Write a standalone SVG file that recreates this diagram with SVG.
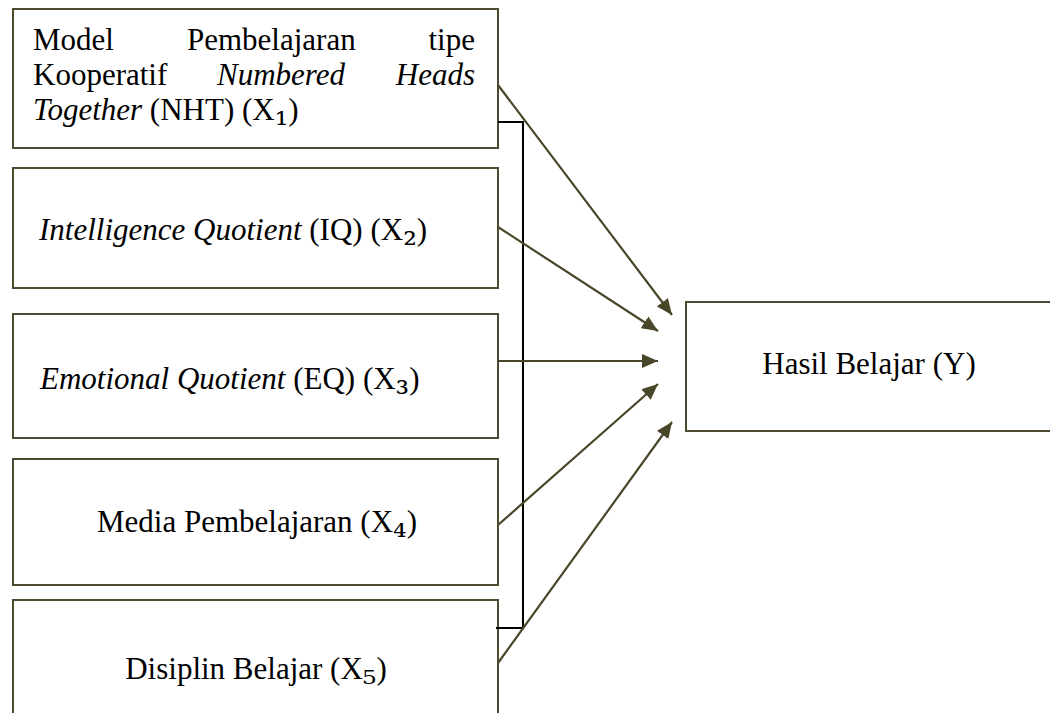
<svg xmlns="http://www.w3.org/2000/svg" width="1050" height="713" viewBox="0 0 1050 713">
<style>
.box{fill:#fff;stroke:#4f4b30;stroke-width:2}
.t{font-family:"Liberation Serif","DejaVu Serif",serif;font-size:31px;fill:#000}
.i{font-style:italic}
.s{font-family:"DejaVu Serif",serif;font-size:34px;baseline-shift:-5px}
.arr{stroke:#4a4629;stroke-width:2.2;fill:none;marker-end:url(#ah)}
.bk{stroke:#000;stroke-width:2;fill:none}
</style>
<defs>
<marker id="ah" markerUnits="userSpaceOnUse" markerWidth="18" markerHeight="14" refX="16" refY="7" orient="auto">
<path d="M0,0 L16,7 L0,14 Z" fill="#4a4629"/>
</marker>
</defs>
<rect width="1050" height="713" fill="#fff"/>
<g id="x1">
<rect class="box" x="13" y="9" width="485" height="139"/>
<text class="t"><tspan x="33" y="50">Model</tspan><tspan x="187" y="50">Pembelajaran</tspan><tspan x="475" y="50" text-anchor="end">tipe</tspan></text>
<text class="t"><tspan x="33" y="85">Kooperatif</tspan><tspan class="i" x="217" y="85">Numbered</tspan><tspan class="i" x="475" y="85" text-anchor="end">Heads</tspan></text>
<text class="t" x="33" y="120"><tspan class="i">Together</tspan> (NHT) (X<tspan class="s">₁</tspan>)</text>
</g>
<g id="x2">
<rect class="box" x="13" y="168" width="485" height="120"/>
<text class="t" x="39" y="240"><tspan class="i">Intelligence Quotient</tspan> (IQ) (X<tspan class="s">₂</tspan>)</text>
</g>
<g id="x3">
<rect class="box" x="13" y="314" width="485" height="124"/>
<text class="t" x="40" y="389"><tspan class="i">Emotional Quotient</tspan> (EQ) (X<tspan class="s">₃</tspan>)</text>
</g>
<g id="x4">
<rect class="box" x="13" y="459" width="485" height="126"/>
<text class="t" x="257" y="532" text-anchor="middle">Media Pembelajaran (X<tspan class="s">₄</tspan>)</text>
</g>
<g id="x5">
<rect class="box" x="13" y="600" width="485" height="130"/>
<text class="t" x="256" y="679" text-anchor="middle">Disiplin Belajar (X<tspan class="s">₅</tspan>)</text>
</g>
<g id="y">
<rect class="box" x="686" y="302" width="380" height="129"/>
<text class="t" x="869" y="374" text-anchor="middle">Hasil Belajar (Y)</text>
</g>
<g id="connectors">
<polyline class="bk" points="498,122 523,122 523,628 496,628"/>
<line class="arr" x1="498" y1="85" x2="672" y2="315"/>
<line class="arr" x1="498" y1="227" x2="658" y2="331"/>
<line class="arr" x1="498" y1="361" x2="658" y2="361"/>
<line class="arr" x1="498" y1="525" x2="658" y2="384"/>
<line class="arr" x1="498" y1="663" x2="672" y2="422"/>
</g>
</svg>
